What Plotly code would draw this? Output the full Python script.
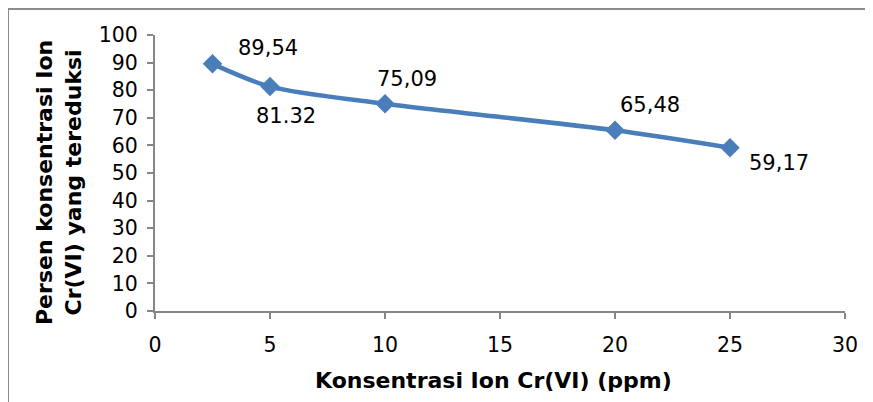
import plotly.graph_objects as go

x_vals = [2.5, 5, 10, 20, 25]
y_vals = [89.54, 81.32, 75.09, 65.48, 59.17]
labels = ["89,54", "81.32", "75,09", "65,48", "59,17"]
label_dx = [55, 16, 22, 35, 49]
label_dy = [16, -29, 25, 25, -15]

x_title = "Konsentrasi Ion Cr(VI) (ppm)"
y_title = "Persen konsentrasi Ion<br>Cr(VI) yang tereduksi"

FONT = "Verdana, DejaVu Sans, sans-serif"
BLUE = "#4A7EBB"

fig = go.Figure()
fig.add_trace(go.Scatter(
    x=x_vals, y=y_vals, mode="lines+markers",
    line=dict(color=BLUE, width=4.5, shape="spline", smoothing=0.8),
    marker=dict(symbol="diamond", size=15, color=BLUE),
    showlegend=False, hoverinfo="skip",
))

for xv, yv, t, dx, dy in zip(x_vals, y_vals, labels, label_dx, label_dy):
    fig.add_annotation(x=xv, y=yv, text=t, showarrow=False,
                       xshift=dx, yshift=dy,
                       font=dict(family=FONT, size=21, color="#000000"))

# page body has an 8px margin; figure is sized to fit the window
W, H = 865, 394
L, R, T, B = 147, 28, 27, 91
pw, ph = W - L - R, H - T - B
fig.add_shape(type="rect", xref="paper", yref="paper",
              x0=(0 - L) / pw, x1=(W + 20 - L) / pw,
              y0=-(B + 20) / ph, y1=(H - B - 1) / ph,
              line=dict(color="#8C8C8C", width=2), fillcolor="rgba(0,0,0,0)",
              layer="below")

title_font = dict(family=FONT, size=22, color="#000000", weight="bold")
# axis titles as annotations for exact placement
fig.add_annotation(text=y_title, xref="paper", yref="paper",
                   x=(51 - L) / pw, y=(ph - (175 - T)) / ph,
                   textangle=-90, showarrow=False, font=title_font,
                   xanchor="center", yanchor="middle")
fig.add_annotation(text=x_title, xref="paper", yref="paper",
                   x=(485 - L) / pw, y=-(372 - T - ph) / ph,
                   showarrow=False, font=title_font,
                   xanchor="center", yanchor="middle")

axis_common = dict(
    showgrid=False, zeroline=False, showline=True, linecolor="#868686",
    linewidth=2, ticks="outside", ticklen=6, tickcolor="#868686", tickwidth=2,
    tickfont=dict(family=FONT, size=20.5, color="#000000"),
)
fig.update_xaxes(range=[0, 30], dtick=5, tick0=0, ticklabelstandoff=8,
                 **axis_common)
fig.update_yaxes(range=[0, 100], dtick=10, tick0=0, ticklabelstandoff=5,
                 **axis_common)

fig.update_layout(
    width=W, height=H,
    margin=dict(l=L, r=R, t=T, b=B),
    plot_bgcolor="white", paper_bgcolor="white",
)
fig.write_html("out.html")
